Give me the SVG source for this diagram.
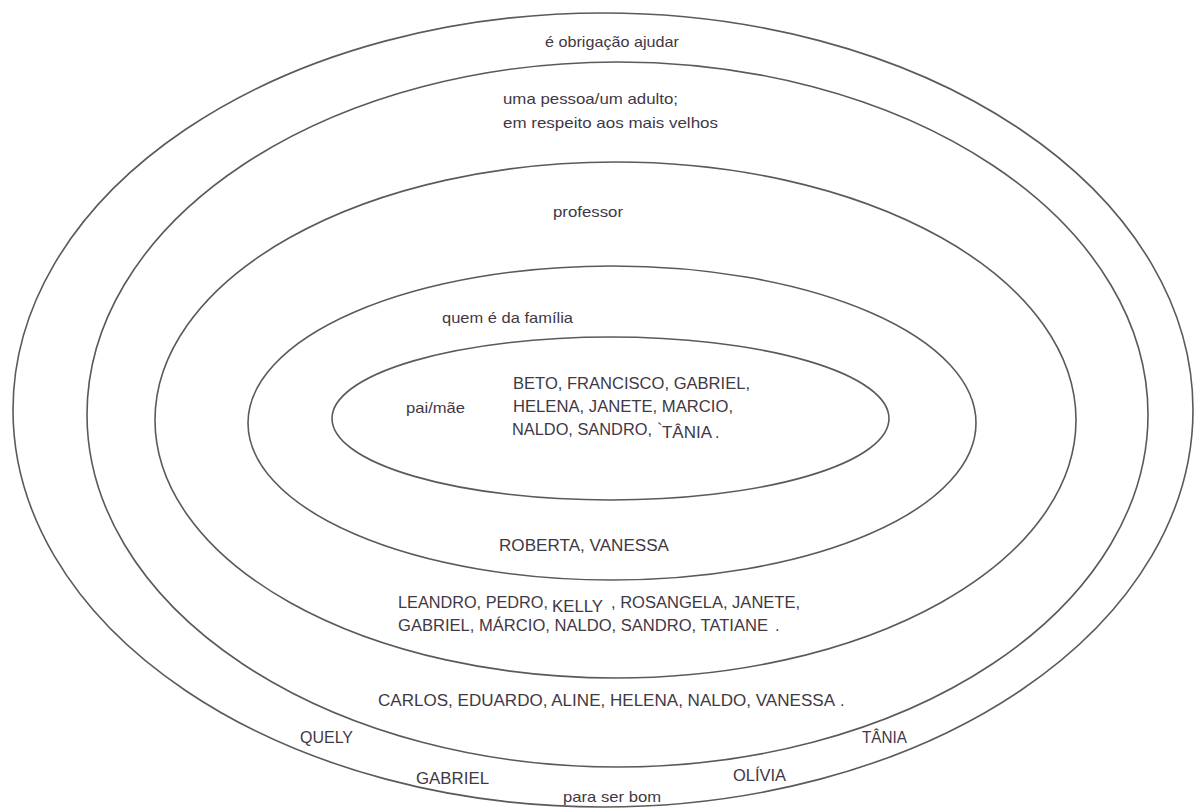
<svg xmlns="http://www.w3.org/2000/svg" width="1195" height="812" viewBox="0 0 1195 812">
<style>
.ring{fill:none;stroke:#5a5a5a;stroke-width:1.6}
.t{font-family:"Liberation Sans",Arial,sans-serif;font-size:15px;fill:#3f3845}
.c{font-family:"Liberation Sans",Arial,sans-serif;font-size:16px;fill:#3f3845}
</style>
<rect width="1195" height="812" fill="#ffffff"/>
<g id="ring-outer"><ellipse class="ring" cx="603" cy="410" rx="590" ry="397"/>
<text class="t" x="545" y="47" textLength="134" lengthAdjust="spacingAndGlyphs">é obrigação ajudar</text>
<text class="t" x="563" y="802" textLength="98" lengthAdjust="spacingAndGlyphs">para ser bom</text>
<text class="c" x="300" y="743" textLength="53" lengthAdjust="spacingAndGlyphs">QUELY</text>
<text class="c" x="862" y="743" textLength="45" lengthAdjust="spacingAndGlyphs">TÂNIA</text>
<text class="c" x="416" y="784" textLength="73" lengthAdjust="spacingAndGlyphs">GABRIEL</text>
<text class="c" x="733" y="781" textLength="53" lengthAdjust="spacingAndGlyphs">OLÍVIA</text>
</g>
<g id="ring-2"><ellipse class="ring" cx="617.5" cy="414.5" rx="530.5" ry="352.5"/>
<text class="t" x="503" y="104" textLength="175" lengthAdjust="spacingAndGlyphs">uma pessoa/um adulto;</text>
<text class="t" x="503" y="128" textLength="215" lengthAdjust="spacingAndGlyphs">em respeito aos mais velhos</text>
<text class="c" x="378" y="706" textLength="457" lengthAdjust="spacingAndGlyphs">CARLOS, EDUARDO, ALINE, HELENA, NALDO, VANESSA</text>
<text class="c" x="840" y="706">.</text>
</g>
<g id="ring-3"><ellipse class="ring" cx="615.5" cy="420" rx="460.5" ry="258"/>
<text class="t" x="553" y="217" textLength="70" lengthAdjust="spacingAndGlyphs">professor</text>
<text class="c" x="398" y="608" textLength="150" lengthAdjust="spacingAndGlyphs">LEANDRO, PEDRO,</text>
<text class="c" x="552" y="612" textLength="51" lengthAdjust="spacingAndGlyphs">KELLY</text>
<text class="c" x="611" y="608" textLength="189" lengthAdjust="spacingAndGlyphs">, ROSANGELA, JANETE,</text>
<text class="c" x="398" y="631" textLength="370" lengthAdjust="spacingAndGlyphs">GABRIEL, MÁRCIO, NALDO, SANDRO, TATIANE</text>
<text class="c" x="775" y="631" font-size="10">.</text>
</g>
<g id="ring-4"><ellipse class="ring" cx="612" cy="423" rx="364" ry="157"/>
<text class="t" x="442" y="323" textLength="131" lengthAdjust="spacingAndGlyphs">quem é da família</text>
<text class="c" x="499" y="551" textLength="170" lengthAdjust="spacingAndGlyphs">ROBERTA, VANESSA</text>
</g>
<g id="ring-inner"><ellipse class="ring" cx="610.5" cy="418.5" rx="278.5" ry="81.5"/>
<text class="t" x="406" y="413" textLength="59" lengthAdjust="spacingAndGlyphs">pai/mãe</text>
<text class="c" x="513" y="389" textLength="237" lengthAdjust="spacingAndGlyphs">BETO, FRANCISCO, GABRIEL,</text>
<text class="c" x="513" y="412" textLength="220" lengthAdjust="spacingAndGlyphs">HELENA, JANETE, MARCIO,</text>
<text class="c" x="512" y="435" textLength="140" lengthAdjust="spacingAndGlyphs">NALDO, SANDRO,</text>
<text class="c" x="657" y="435">`</text>
<text class="c" x="662" y="438" font-size="15" textLength="50" lengthAdjust="spacingAndGlyphs">TÂNIA</text>
<text class="c" x="715" y="438" font-size="10">.</text>
</g>
<g id="connectors"/>
</svg>
